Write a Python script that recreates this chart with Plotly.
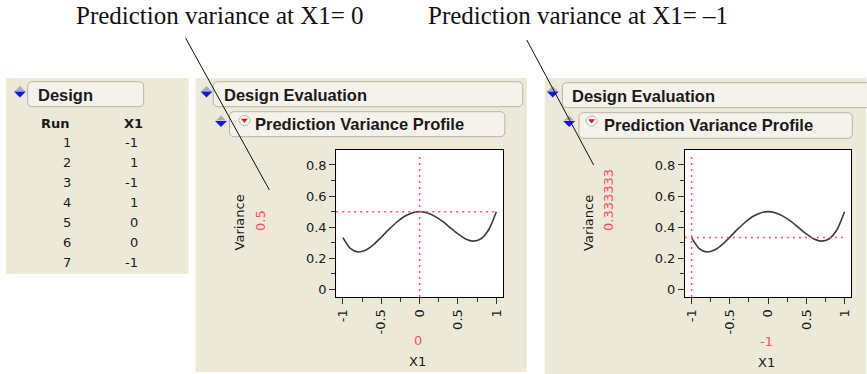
import plotly.graph_objects as go

# ---------------- data ----------------
RUNS = [1, 2, 3, 4, 5, 6, 7]
X1_DESIGN = ["-1", "1", "-1", "1", "0", "0", "-1"]

X_GRID = [-1.0, -0.9, -0.8, -0.7, -0.6, -0.5, -0.4, -0.3, -0.2, -0.1, 0.0,
          0.1, 0.2, 0.3, 0.4, 0.5, 0.6, 0.7, 0.8, 0.9, 1.0]
VARIANCE = [0.333, 0.263, 0.241, 0.254, 0.289, 0.336, 0.386, 0.432, 0.469, 0.492, 0.500,
            0.492, 0.470, 0.437, 0.397, 0.357, 0.325, 0.311, 0.326, 0.384, 0.500]

X_TICKVALS = [-1, -0.5, 0, 0.5, 1]
X_TICKTEXT = ["-1", "-0.5", "0", "0.5", "1"]
X_MINOR = [-0.75, -0.25, 0.25, 0.75]
Y_TICKVALS = [0, 0.2, 0.4, 0.6, 0.8]
Y_TICKTEXT = ["0", "0.2", "0.4", "0.6", "0.8"]
Y_MINOR = [0.1, 0.3, 0.5, 0.7]

CURRENT_X = [0, -1]
CURRENT_X_TEXT = ["0", "-1"]
CURRENT_VAR = [0.5, 0.333333]
CURRENT_VAR_TEXT = ["0.5", "0.333333"]

CALLOUTS = ["Prediction variance at X1= 0", "Prediction variance at X1= \u20131"]

# ---------------- helpers ----------------
W, H = 867, 374
BEIGE = "#ECE9D8"
BOXFILL = "#F4F2EA"
BOXLINE = "#B9B5A4"
RED = "#FF4D6A"
UI = "DejaVu Sans"
HDR = "Liberation Sans"


def px(x):
    return x / W


def py(y):
    return 1 - y / H


shapes = []
annotations = []


def rect(x0, y0, x1, y1, fill, line=None, lw=0):
    shapes.append(dict(type="rect", xref="paper", yref="paper", layer="below",
                       x0=px(x0), x1=px(x1), y0=py(y1), y1=py(y0),
                       fillcolor=fill, line=dict(width=lw, color=line or fill)))


def rrect(x0, y0, x1, y1, r=5):
    def P(x, y):
        return f"{px(x):.5f},{py(y):.5f}"
    path = (f"M {P(x0 + r, y0)} L {P(x1 - r, y0)} Q {P(x1, y0)} {P(x1, y0 + r)} "
            f"L {P(x1, y1 - r)} Q {P(x1, y1)} {P(x1 - r, y1)} "
            f"L {P(x0 + r, y1)} Q {P(x0, y1)} {P(x0, y1 - r)} "
            f"L {P(x0, y0 + r)} Q {P(x0, y0)} {P(x0 + r, y0)} Z")
    shapes.append(dict(type="path", xref="paper", yref="paper", layer="below",
                       path=path, fillcolor=BOXFILL, line=dict(width=1, color=BOXLINE)))


def poly(pts, fill):
    path = "M " + " L ".join(f"{px(x):.5f},{py(y):.5f}" for x, y in pts) + " Z"
    shapes.append(dict(type="path", xref="paper", yref="paper", layer="above",
                       path=path, fillcolor=fill, line=dict(width=0)))


def blue_icon(cx, cy):
    poly([(cx - 5, cy - 1), (cx, cy - 6), (cx + 5, cy - 1)], "#A9A9C4")
    poly([(cx - 6, cy - 0.5), (cx + 6, cy - 0.5), (cx, cy + 5.5)], "#1414E6")


def red_icon(cx, cy):
    shapes.append(dict(type="circle", xref="paper", yref="paper", layer="above",
                       x0=px(cx - 5.5), x1=px(cx + 5.5), y0=py(cy + 5), y1=py(cy - 5),
                       fillcolor="white", line=dict(width=1, color="#B0B0B0")))
    poly([(cx - 3.5, cy - 1.8), (cx + 3.5, cy - 1.8), (cx, cy + 2.5)], "#E8101E")


def ann(text, x, y, size=13, color="#1a1a1a", bold=False, xa="center", ya="middle",
        angle=0, family=UI):
    if bold:
        text = f"<b>{text}</b>"
    annotations.append(dict(text=text, x=px(x), y=py(y), xref="paper", yref="paper",
                            xanchor=xa, yanchor=ya, textangle=angle, showarrow=False,
                            font=dict(family=family, size=size, color=color)))


# ---------------- panels ----------------
rect(5, 78, 188, 274, BEIGE)
rect(195, 78, 527, 372, BEIGE)
rect(545, 78, 867, 374, BEIGE)

# plot area backgrounds
PLOT_BOXES = [(336, 150, 503, 297), (685.5, 150, 852, 297)]
for (a, b, c, d) in PLOT_BOXES:
    rect(a, b, c, d, "white")

# panel 1: Design table
rrect(26.7, 81.7, 143, 106.7)
blue_icon(19, 92)
ann("Design", 35, 95, size=16.5, bold=True, xa="left", family=HDR)
ann("Run", 55, 123, bold=True)
ann("X1", 133, 123, bold=True)
for i, (r, v) in enumerate(zip(RUNS, X1_DESIGN)):
    yy = 142.7 + 20 * i
    ann(str(r), 66, yy)
    ann(v, 139.5, yy, xa="right")

# panel 2 / 3 headers
HEAD = [
    dict(b1=(212.7, 81.7, 523, 106.7), t1=(221.7, 95), b2=(229, 111.7, 505, 136.7), t2=(253, 124),
         i1=(206, 92), i2=(220.5, 121.5), ri=(244, 120.5)),
    dict(b1=(562.7, 82.7, 885, 107.7), t1=(570, 96), b2=(579.3, 112.7, 853.3, 138.3), t2=(602, 125),
         i1=(553, 92), i2=(569.5, 121.5), ri=(592, 121)),
]
for h in HEAD:
    rrect(*h["b1"])
    rrect(*h["b2"])
    blue_icon(*h["i1"])
    blue_icon(*h["i2"])
    red_icon(*h["ri"])
    ann("Design Evaluation", *h["t1"], size=16.5, bold=True, xa="left", family=HDR)
    ann("Prediction Variance Profile", *h["t2"], size=16.5, bold=True, xa="left", family=HDR)

# axis labels and current values
LABELS = [
    dict(var=(239, 222), val_x=260, xval=(418, 340), x1=(417, 361)),
    dict(var=(588.3, 223), val_x=608.3, xval=(767, 341), x1=(767, 362)),
]
for k, L in enumerate(LABELS):
    ann("Variance", *L["var"], angle=-90)
    ann(CURRENT_VAR_TEXT[k], L["val_x"], 233, color=RED, angle=-90, ya="bottom")
    ann(CURRENT_X_TEXT[k], *L["xval"], color=RED)
    ann("X1", *L["x1"])

# callout texts and leader lines
ann(CALLOUTS[0], 73, 16, size=25, color="#111", xa="left", family="Liberation Serif")
ann(CALLOUTS[1], 426, 16, size=25, color="#111", xa="left", family="Liberation Serif")
for (x0, y0, x1, y1) in [(185, 38, 269, 190), (527, 40, 594, 165)]:
    shapes.append(dict(type="line", xref="paper", yref="paper", layer="above",
                       x0=px(x0), y0=py(y0), x1=px(x1), y1=py(y1),
                       line=dict(color="#111", width=1)))

# ---------------- figure ----------------
fig = go.Figure()
for k, (xa, ya) in enumerate([("x", "y"), ("x2", "y2")]):
    fig.add_trace(go.Scatter(x=X_GRID, y=VARIANCE, mode="lines", xaxis=xa, yaxis=ya,
                             line=dict(color="#3c3c3c", width=1.6, shape="spline", smoothing=0.8),
                             hoverinfo="skip", showlegend=False))
    xd = "x domain" if k == 0 else "x2 domain"
    yd = "y domain" if k == 0 else "y2 domain"
    shapes.append(dict(type="line", xref=xa, yref=yd, x0=CURRENT_X[k], x1=CURRENT_X[k],
                       y0=0, y1=0.965, layer="above",
                       line=dict(color=RED, width=1.5, dash="2px,4px")))
    shapes.append(dict(type="line", xref=xd, yref=ya, x0=0, x1=0.97,
                       y0=CURRENT_VAR[k], y1=CURRENT_VAR[k], layer="above",
                       line=dict(color=RED, width=1.5, dash="2px,4px")))

axis_common = dict(showline=True, mirror=True, linecolor="black", linewidth=1,
                   ticks="outside", ticklen=6, tickcolor="#333", tickwidth=1,
                   tickfont=dict(family=UI, size=13, color="#1a1a1a"),
                   showgrid=False, zeroline=False, fixedrange=True)

xa_cfg = dict(axis_common, range=[-1.087, 1.085], tickmode="array",
              tickvals=X_TICKVALS, ticktext=X_TICKTEXT, tickangle=-90,
              minor=dict(tickmode="array", tickvals=X_MINOR, ticks="outside",
                         ticklen=4, tickcolor="#333", showgrid=False))
ya_cfg = dict(axis_common, range=[-0.048, 0.896], tickmode="array",
              tickvals=Y_TICKVALS, ticktext=Y_TICKTEXT,
              minor=dict(tickmode="array", tickvals=Y_MINOR, ticks="outside",
                         ticklen=4, tickcolor="#333", showgrid=False))

b1, b2 = PLOT_BOXES
fig.update_layout(
    width=W, height=H, margin=dict(l=0, r=0, t=0, b=0),
    paper_bgcolor="white", plot_bgcolor="rgba(0,0,0,0)",
    xaxis=dict(xa_cfg, domain=[px(b1[0]), px(b1[2])], anchor="y"),
    yaxis=dict(ya_cfg, domain=[py(b1[3]), py(b1[1])], anchor="x"),
    xaxis2=dict(xa_cfg, domain=[px(b2[0]), px(b2[2])], anchor="y2"),
    yaxis2=dict(ya_cfg, domain=[py(b2[3]), py(b2[1])], anchor="x2"),
    shapes=shapes, annotations=annotations, showlegend=False,
)

fig.write_html("out.html")
